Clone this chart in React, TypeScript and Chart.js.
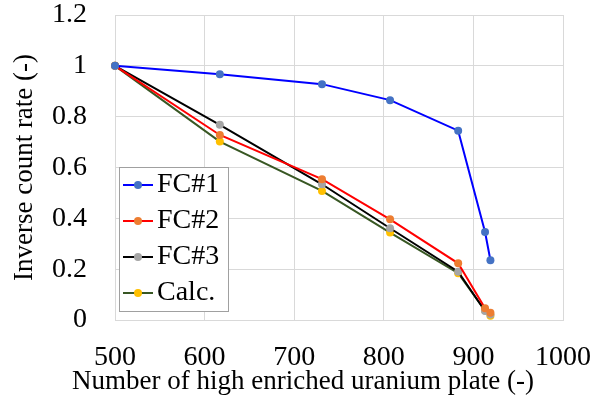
import { useEffect, useRef } from "react";
import { Chart, registerables } from "chart.js";

Chart.register(...registerables);

// ---- data ----
const plates = [500, 617, 731, 807, 883, 913, 919];
const fc1 = [1, 0.967, 0.928, 0.865, 0.745, 0.346, 0.235];
const fc2 = [1, 0.728, 0.554, 0.396, 0.223, 0.046, 0.029];
const fc3 = [1, 0.768, 0.534, 0.361, 0.19, 0.035, 0.022];
const calc = [1, 0.702, 0.508, 0.344, 0.184, 0.037, 0.017];
const seriesNames = ["FC#1", "FC#2", "FC#3", "Calc."];
const xTicks = [500, 600, 700, 800, 900, 1000];
const yTicks = [0, 0.2, 0.4, 0.6, 0.8, 1, 1.2];
const xTitle = "Number of high enriched uranium plate (-)";
const yTitle = "Inverse count rate (-)";

const FONT = "'Liberation Serif', 'Times New Roman', serif";

const insideLegend = {
  id: "insideLegend",
  afterDraw(chart: any, _args: any, opts: any) {
    const ctx = chart.ctx as CanvasRenderingContext2D;
    const { left, top, width, height, firstRow, rowHeight, lineStart, lineEnd, textX, fontSize, borderColor } = opts;
    ctx.save();
    ctx.fillStyle = "#ffffff";
    ctx.fillRect(left, top, width, height);
    ctx.strokeStyle = borderColor;
    ctx.lineWidth = 1;
    ctx.strokeRect(left + 0.5, top + 0.5, width, height);
    chart.data.datasets.forEach((ds: any, i: number) => {
      const y = top + firstRow + i * rowHeight;
      ctx.strokeStyle = ds.borderColor;
      ctx.lineWidth = ds.borderWidth;
      ctx.beginPath();
      ctx.moveTo(left + lineStart, y);
      ctx.lineTo(left + lineEnd, y);
      ctx.stroke();
      ctx.fillStyle = ds.pointBackgroundColor;
      ctx.beginPath();
      ctx.arc(left + (lineStart + lineEnd) / 2, y, ds.pointRadius, 0, Math.PI * 2);
      ctx.fill();
      ctx.fillStyle = "#000000";
      ctx.font = `${fontSize}px ${FONT}`;
      ctx.textBaseline = "middle";
      ctx.textAlign = "left";
      ctx.fillText(ds.label, left + textX, y);
    });
    ctx.restore();
  },
};

export default function App() {
  const ref = useRef<HTMLCanvasElement | null>(null);

  useEffect(() => {
    if (!ref.current) return;
    Chart.defaults.font.family = FONT;
    const series = [fc1, fc2, fc3, calc];
    const lineColors = ["#0000FF", "#FF0000", "#000000", "#385723"];
    const pointColors = ["#4472C4", "#ED7D31", "#A5A5A5", "#FFC000"];
    const chart = new Chart(ref.current, {
      type: "line",
      data: {
        datasets: series.map((s, i) => ({
          label: seriesNames[i],
          data: s.map((y, j) => ({ x: plates[j], y })),
          borderColor: lineColors[i],
          backgroundColor: pointColors[i],
          pointBackgroundColor: pointColors[i],
          pointBorderColor: pointColors[i],
          pointBorderWidth: 0,
          pointRadius: 4,
          pointHoverRadius: 4,
          borderWidth: 2,
          tension: 0,
          clip: false as any,
        })),
      },
      options: {
        responsive: false,
        animation: false,
        events: [],
        layout: { padding: { top: 15, right: 0, left: 0, bottom: 0 } },
        plugins: {
          legend: { display: false },
          tooltip: { enabled: false },
          title: {
            display: true,
            position: "bottom",
            text: xTitle,
            color: "#000",
            font: { size: 27, weight: "normal", family: FONT },
            padding: { top: 0, bottom: 1.8 },
          },
          insideLegend: {
            left: 119,
            top: 167,
            width: 109,
            height: 144,
            firstRow: 18,
            rowHeight: 36,
            lineStart: 4,
            lineEnd: 34,
            textX: 38,
            fontSize: 28,
            borderColor: "#A0A0A0",
          },
        } as any,
        scales: {
          x: {
            type: "linear",
            min: 500,
            max: 1000,
            afterBuildTicks: (axis: any) => {
              axis.ticks = xTicks.map((v) => ({ value: v }));
            },
            afterFit: (axis: any) => {
              axis.height = 45.8;
              axis.paddingLeft = 0;
              axis.paddingRight = 0;
            },
            grid: { color: "#D9D9D9", drawTicks: false },
            border: { color: "#D9D9D9" },
            ticks: {
              color: "#000",
              font: { size: 28, family: FONT },
              padding: 21,
              maxRotation: 0,
              autoSkip: false,
              callback: (v: any) => String(v),
            },
          },
          y: {
            type: "linear",
            min: 0,
            max: 1.2,
            afterBuildTicks: (axis: any) => {
              axis.ticks = yTicks.map((v) => ({ value: v }));
            },
            afterFit: (axis: any) => {
              axis.width = 115;
              axis.paddingTop = 0;
              axis.paddingBottom = 0;
            },
            grid: { color: "#D9D9D9", drawTicks: false },
            border: { color: "#D9D9D9" },
            title: {
              display: true,
              text: yTitle,
              color: "#000",
              font: { size: 27, family: FONT },
              padding: { top: 9, bottom: 0 },
            },
            ticks: {
              color: "#000",
              font: { size: 28, family: FONT },
              padding: 28,
              autoSkip: false,
              callback: (v: any) => String(Math.round(Number(v) * 10) / 10),
            },
          },
          spacer: {
            type: "linear",
            position: "right",
            display: true,
            min: 0,
            max: 1,
            afterFit: (axis: any) => {
              axis.width = 43;
              axis.paddingTop = 0;
              axis.paddingBottom = 0;
            },
            grid: { display: false, drawTicks: false },
            border: { display: false },
            ticks: { display: false },
          },
        },
      },
      plugins: [insideLegend as any],
    });
    return () => chart.destroy();
  }, []);

  return (
    <div style={{ position: "absolute", left: 0, top: 0, width: 606, height: 400, background: "#fff" }}>
      <canvas ref={ref} width={606} height={400} style={{ display: "block" }} />
    </div>
  );
}
